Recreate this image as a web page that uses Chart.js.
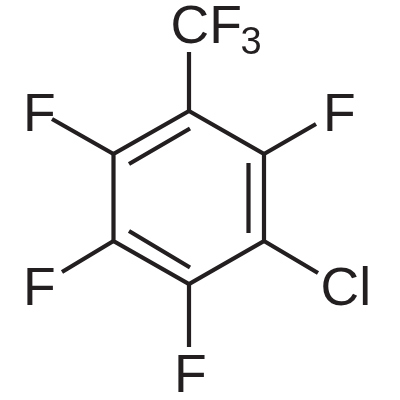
<!DOCTYPE html>
<html>
<head>
<meta charset="utf-8">
<title>Structure</title>
<script src="https://cdn.jsdelivr.net/npm/chart.js"></script>
<style>
  html, body { margin: 0; padding: 0; background: #fff; }
  canvas { display: block; }
</style>
</head>
<body>
<canvas id="myChart" width="400" height="400"></canvas>
<script>
// ring atoms, going clockwise from the top (first point repeated to close it)
const ringX = [189, 264, 264, 189, 113.5, 113.5, 189];
const ringY = [111, 154, 241, 284, 241, 154, 111];

// inner lines of the double bonds, null splits them
const innerX = [190, 129, null, 248.5, 248.5, null, 129, 190];
const innerY = [128.5, 164, null, 163, 233, null, 231, 267.5];

// bonds going out of the ring
const outerX = [189, 189, null, 113.5, 52, null, 113.5, 62, null, 189, 189, null, 264, 318, null, 264, 316];
const outerY = [111, 52, null, 154, 119, null, 241, 272, null, 284, 347, null, 241, 273, null, 154, 124];

// atom labels
const atomText = ['CF', '3', 'F', 'F', 'F', 'F', 'Cl'];
const atomX = [170.5, 240.5, 23, 323, 23, 174, 320.5];
const atomY = [43, 54, 131, 131, 305, 392, 305];

const inkColor = '#231f20';

const atomLabels = {
    id: 'atomLabels',
    afterDatasetsDraw(chart) {
        const { ctx, scales } = chart;
        ctx.save();
        ctx.fillStyle = inkColor;
        ctx.textAlign = 'left';
        ctx.textBaseline = 'alphabetic';
        atomText.forEach((text, i) => {
            ctx.font = (text === '3' ? 38 : 53.5) + 'px "Liberation Sans"';
            ctx.fillText(text, scales.x.getPixelForValue(atomX[i]), scales.y.getPixelForValue(atomY[i]));
        });
        ctx.restore();
    }
};

function toPoints(xs, ys) {
    return xs.map((x, i) => ({ x: x, y: ys[i] }));
}

function bondSet(label, xs, ys) {
    return {
        label: label,
        data: toPoints(xs, ys),
        showLine: true,
        spanGaps: false,
        borderColor: inkColor,
        borderWidth: 4.2,
        borderCapStyle: 'butt',
        borderJoinStyle: 'miter',
        pointRadius: 0,
        tension: 0
    };
}

new Chart(document.getElementById('myChart'), {
    type: 'scatter',
    data: {
        datasets: [
            bondSet('ring', ringX, ringY),
            bondSet('inner', innerX, innerY),
            bondSet('outer', outerX, outerY)
        ]
    },
    options: {
        responsive: false,
        animation: false,
        layout: { padding: 0 },
        plugins: {
            legend: { display: false },
            tooltip: { enabled: false }
        },
        scales: {
            x: { type: 'linear', min: 0, max: 400, display: false },
            y: { type: 'linear', min: 0, max: 400, reverse: true, display: false }
        }
    },
    plugins: [atomLabels]
});
</script>
</body>
</html>
